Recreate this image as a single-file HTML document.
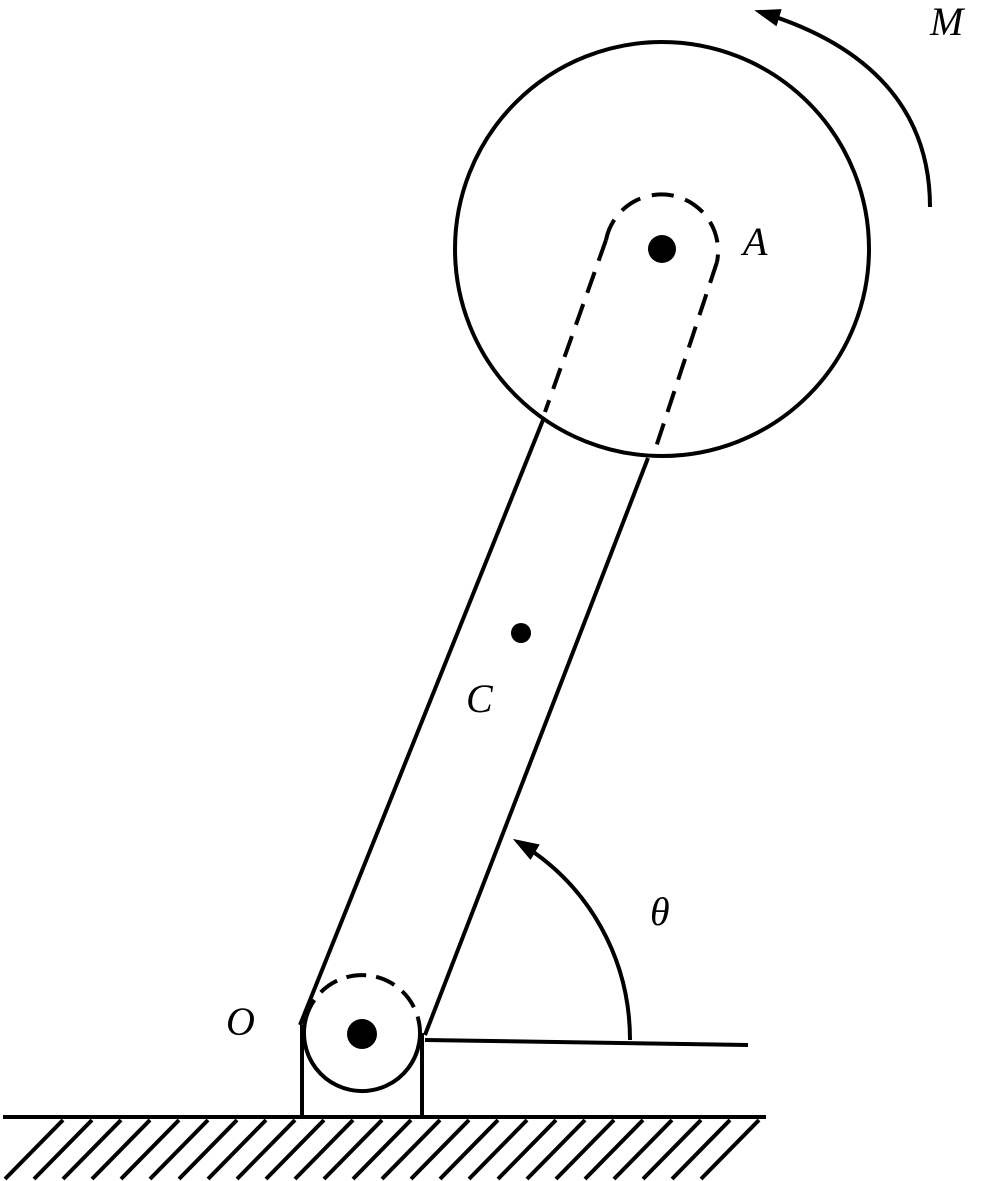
<!DOCTYPE html>
<html><head><meta charset="utf-8"><style>
html,body{margin:0;padding:0;background:#fff;}
svg{display:block;}
text{font-family:"Liberation Serif",serif;font-style:italic;font-size:40px;fill:#000;}
</style></head><body>
<svg width="987" height="1181" viewBox="0 0 987 1181">
<defs>
<marker id="ah" markerWidth="28" markerHeight="24" refX="20" refY="10" orient="auto" markerUnits="userSpaceOnUse" viewBox="0 0 28 20">
<path d="M0,1 L26,10 L0,19 Z" fill="#000"/></marker>
</defs>
<g stroke="#000" stroke-width="4" fill="none">
<circle cx="662" cy="249" r="207"/>
<path d="M606,240 A56,56 0 1 1 717,262" stroke-dasharray="22,12"/>
<line x1="606" y1="240" x2="545" y2="412" stroke-dasharray="22,12"/>
<line x1="717" y1="262" x2="655" y2="450" stroke-dasharray="22,12"/>
<line x1="543" y1="420" x2="300" y2="1025"/>
<line x1="648" y1="458" x2="425" y2="1035"/>
<path d="M306,1018 A58,58 0 1 0 418,1018"/>
<path d="M306,1018 A58,58 0 0 1 418,1018" stroke-dasharray="20,10"/>
<line x1="302" y1="1025" x2="302" y2="1117"/>
<line x1="422" y1="1033" x2="422" y2="1117"/>
<line x1="3" y1="1117" x2="766" y2="1117"/>
<line x1="425" y1="1040" x2="748" y2="1045"/>
<path d="M630,1040 C630,960 590,885 518,842" marker-end="url(#ah)"/>
<path d="M930,207 C930,110 870,45 760,12" marker-end="url(#ah)"/>
</g>
<g stroke="#000" stroke-width="4">
<script>
const g=document.currentScript.parentNode;
for(let x=5;x<=720;x+=29){const l=document.createElementNS('http://www.w3.org/2000/svg','line');
l.setAttribute('x1',x);l.setAttribute('y1',1179);l.setAttribute('x2',x+58);l.setAttribute('y2',1120);


g.appendChild(l);}
</script>
</g>
<circle cx="662" cy="249" r="14" fill="#000"/>
<circle cx="521" cy="633" r="10" fill="#000"/>
<circle cx="362" cy="1034" r="15" fill="#000"/>
<text x="930" y="35">M</text>
<text x="743" y="255">A</text>
<text x="466" y="712">C</text>
<text x="650" y="925">θ</text>
<text x="226" y="1035">O</text>
</svg>
</body></html>
